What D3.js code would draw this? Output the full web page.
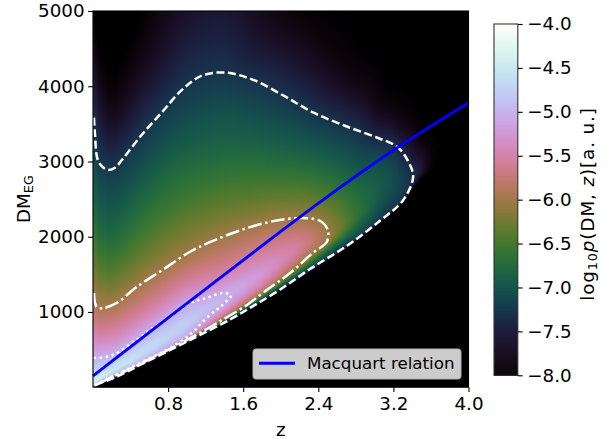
<!DOCTYPE html>
<html><head><meta charset="utf-8">
<script src="https://cdn.jsdelivr.net/npm/d3@7"></script>
<style>
html,body{margin:0;padding:0;background:#fff}
svg{display:block}
text{font-family:"DejaVu Sans";fill:#000}
</style></head><body>
<svg id="c" width="610" height="439"></svg>
<script>
const xTicks=[0.8,1.6,2.4,3.2,4.0];
const yTicks=[1000,2000,3000,4000,5000];
const cbTicks=[-4,-4.5,-5,-5.5,-6,-6.5,-7,-7.5,-8];
const legendLabel="Macquart relation";

// redshift columns
const zColumns=[0,0.1,0.2,0.4,0.7,1.0,1.4,1.8,2.2,2.5,2.8,3.1,3.3,3.41,3.5,3.62,4.0];
// each column: knots of [DM, log10 p]
const columnProfiles=[
[[-30,-8],[-10,-7.25],[0,-6],[10,-5.05],[60,-4.3],[150,-4.55],[300,-4.85],[400,-5.05],[700,-5.45],[1000,-5.78],[1280,-6],[1800,-6.4],[2400,-6.78],[3000,-7.05],[3650,-7.25],[4200,-7.6],[5000,-8]],
[[40,-8],[65,-7.25],[85,-6],[100,-5.1],[125,-4.35],[170,-4.45],[280,-4.8],[400,-5.05],[700,-5.55],[1052,-6],[1500,-6.42],[2000,-6.82],[2930,-7.25],[3500,-7.65],[4000,-7.95],[5000,-8.3]],
[[88,-8],[113,-7.25],[135,-6],[150,-5.05],[210,-4.42],[320,-4.75],[426,-5.05],[750,-5.55],[1090,-6],[1500,-6.42],[2000,-6.8],[2900,-7.25],[3300,-7.6],[3800,-7.95],[5000,-8.2]],
[[205,-8],[232,-7.25],[248,-6],[260,-5.05],[350,-4.5],[450,-4.7],[575,-5.05],[850,-5.5],[1266,-6],[1800,-6.45],[2400,-6.85],[3165,-7.25],[3700,-7.6],[4300,-7.9],[5000,-8.1]],
[[390,-8],[415,-7.25],[432,-6],[445,-5.05],[600,-4.62],[700,-4.8],[835,-5.05],[1100,-5.5],[1525,-6],[2100,-6.42],[2900,-6.88],[3630,-7.25],[4300,-7.65],[5000,-7.85]],
[[575,-8],[606,-7.25],[640,-6],[670,-5.05],[860,-4.72],[1095,-5.05],[1320,-5.45],[1750,-6],[2400,-6.45],[3200,-6.9],[3999,-7.25],[5000,-7.65]],
[[825,-8],[862,-7.25],[912,-6],[1000,-5.4],[1108,-5.05],[1180,-4.95],[1252,-5.05],[1500,-5.5],[1990,-6],[2600,-6.45],[3150,-6.8],[3700,-7.03],[4180,-7.25],[5000,-7.58]],
[[1120,-8],[1160,-7.25],[1245,-6],[1340,-5.5],[1510,-5.2],[1750,-5.5],[2170,-6],[2700,-6.5],[3300,-6.9],[4023,-7.25],[4500,-7.6],[5000,-7.78]],
[[1430,-8],[1475,-7.25],[1625,-6],[1800,-5.55],[1950,-5.55],[2245,-6],[2700,-6.5],[3200,-6.92],[3755,-7.25],[4300,-7.62],[5000,-7.95]],
[[1675,-8],[1715,-7.25],[1800,-6.85],[1930,-6.0],[2010,-5.95],[2090,-6.0],[2300,-6.2],[2700,-6.62],[3100,-6.95],[3570,-7.25],[4000,-7.65],[4500,-7.9],[5000,-8]],
[[1930,-8],[1970,-7.25],[2060,-6.9],[2250,-6.6],[2500,-6.68],[2900,-6.98],[3420,-7.25],[3800,-7.65],[4100,-7.9],[4500,-8]],
[[2220,-8],[2260,-7.25],[2450,-7.05],[2750,-6.95],[3000,-7.05],[3275,-7.25],[3500,-7.65],[3800,-8]],
[[2440,-8],[2480,-7.25],[2800,-7.1],[3100,-7.25],[3350,-7.6],[3550,-7.95],[3650,-8]],
[[2620,-8],[2700,-7.45],[2796,-7.25],[2950,-7.38],[3150,-7.7],[3350,-7.95],[3450,-8]],
[[2750,-8],[2850,-7.62],[2900,-7.55],[3000,-7.6],[3200,-7.9],[3300,-8]],
[[2850,-8],[2950,-7.97],[3050,-8]],
[[3200,-8],[3400,-8]]
];
const contourOuter=[[0.01,3582],[0.02,3382],[0.05,3023],[0.10,2930],[0.16,2889],[0.235,2916],[0.31,3023],[0.52,3355],[0.74,3662],[0.95,3955],[1.16,4141],[1.41,4181],[1.70,4088],[2.05,3861],[2.35,3648],[2.71,3462],[3.03,3315],[3.24,3196],[3.36,2996],[3.41,2796],[3.30,2479],[3.057,2213],[2.706,1880],[2.31,1570],[1.99,1295],[1.7,1075],[1.46,900],[1.14,694],[0.885,534],[0.5,295],[0.245,136],[0.03,30],[0,5]];
const contourMiddle=[[0.01,1250],[0.04,1065],[0.11,1052],[0.27,1132],[0.45,1318],[0.74,1558],[1.03,1797],[1.25,1931],[1.49,2050],[1.75,2156],[1.99,2222],[2.24,2249],[2.42,2209],[2.50,2090],[2.49,1930],[2.34,1784],[2.10,1518],[1.85,1292],[1.64,1093],[1.43,933],[1.25,800],[0.7,432],[0.4,248],[0.2,135],[0.02,25]];
const contourInner=[[0.01,400],[0.03,388],[0.21,428],[0.43,601],[0.64,787],[0.85,960],[1.03,1119],[1.21,1186],[1.38,1252],[1.47,1220],[1.38,1093],[1.21,920],[1.03,695],[0.78,494],[0.565,362],[0.35,229],[0.16,120],[0.02,25]];
const macquartZ=[0,0.63,1.33,2.05,2.45,3.24,4.0];
const macquartDM=[150,759,1430,2117,2490,3182,3781];

const svg=d3.select("#c");
const FS=18.3;
const x=d3.scaleLinear().domain([0,4]).range([93,468.5]);
const y=d3.scaleLinear().domain([0,5000]).range([387.2,11]);
const color=d3.scaleSequential(d3.interpolateCubehelixDefault).domain([-8,-4]).clamp(true);

function sample(col,dm){
  const k=columnProfiles[col];
  if(dm<=k[0][0])return -8;
  const n=k.length;
  if(dm>=k[n-1][0])return k[n-1][1];
  const i=d3.bisector(d=>d[0]).right(k,dm);
  const a=k[i-1],b=k[i];
  return a[1]+(b[1]-a[1])*(dm-a[0])/(b[0]-a[0]);
}
function colIndex(z){
  return Math.max(0,Math.min(zColumns.length-2,d3.bisectRight(zColumns,z)-1));
}
function edgeAt(z){
  const i=colIndex(z),t=(z-zColumns[i])/(zColumns[i+1]-zColumns[i]);
  return columnProfiles[i][0][0]*(1-t)+columnProfiles[i+1][0][0]*t;
}
function fieldOff(z,off){
  const i=colIndex(z),t=(z-zColumns[i])/(zColumns[i+1]-zColumns[i]);
  return sample(i,columnProfiles[i][0][0]+off)*(1-t)+sample(i+1,columnProfiles[i+1][0][0]+off)*t;
}
// the read knots are rendered with a soft sampling kernel, tighter near the sharp lower edge
const kernel=[-1,-0.5,0,0.5,1],kw=[1,2,3,2,1];
function field(z,dm){
  const off=dm-edgeAt(z);
  if(off<=0&&z>3.7)return -8;
  const dOff=Math.min(Math.max(off,0)*0.2,260);
  const dz=Math.min(0.13,Math.max(off,0)/2500+0.01,Math.max(z,0.001));
  let s=0,w=0;
  for(let a=0;a<5;a++)for(let b=0;b<5;b++){
    const W=kw[a]*kw[b];
    s+=W*fieldOff(Math.min(4,z+kernel[a]*dz),off+kernel[b]*dOff);w+=W;
  }
  return s/w;
}
// heatmap raster through the scales
const x0=x.range()[0],x1=x.range()[1],y1=y.range()[0],y0=y.range()[1];
const W=Math.round(x1-x0),H=Math.round(y1-y0);
const cv=document.createElement("canvas");cv.width=W;cv.height=H;
const ctx=cv.getContext("2d");const img=ctx.createImageData(W,H);
for(let j=0;j<H;j++)for(let i=0;i<W;i++){
  const c=d3.rgb(color(field(x.invert(x0+i+.5),y.invert(y0+j+.5))));
  const p=(j*W+i)*4;img.data[p]=c.r;img.data[p+1]=c.g;img.data[p+2]=c.b;img.data[p+3]=255;
}
ctx.putImageData(img,0,0);
svg.append("image").attr("x",x0).attr("y",y0).attr("width",x1-x0).attr("height",y1-y0)
  .attr("preserveAspectRatio","none").attr("href",cv.toDataURL());

const line=d3.line(d=>x(d[0]),d=>y(d[1])).curve(d3.curveCatmullRom.alpha(0.5));
const lw=2.5;
[[contourOuter,"8,3.5"],[contourMiddle,"14,3.5,2.5,3.5"],[contourInner,"2.5,3.5"]].forEach(([d,dash])=>{
  svg.append("path").attr("d",line(d)).attr("fill","none").attr("stroke","#fff")
    .attr("stroke-width",lw).attr("stroke-dasharray",dash);
});
svg.append("path").attr("d",d3.line(d=>x(d[0]),d=>y(d[1])).curve(d3.curveMonotoneX)(macquartZ.map((z,i)=>[z,macquartDM[i]])))
  .attr("fill","none").attr("stroke","#0000ff").attr("stroke-width",3);

// axes
function styleAxis(g){
  g.selectAll("text").style("font-family","DejaVu Sans").style("font-size",FS+"px").attr("fill","#000");
  g.selectAll("line,path").attr("stroke","#000").attr("stroke-width",1.1);
}
svg.append("g").attr("transform",`translate(0,${y1})`)
  .call(d3.axisBottom(x).tickValues(xTicks).tickSize(4.9).tickPadding(4.5).tickFormat(d3.format(".1f"))).call(styleAxis)
  .call(g=>g.select(".domain").remove());
svg.append("g").attr("transform",`translate(${x0},0)`)
  .call(d3.axisLeft(y).tickValues(yTicks).tickSize(4.9).tickPadding(3.5).tickFormat(d3.format("d"))).call(styleAxis)
  .call(g=>g.select(".domain").remove());
svg.append("rect").attr("x",x0).attr("y",y0).attr("width",x1-x0).attr("height",y1-y0)
  .attr("fill","none").attr("stroke","#000").attr("stroke-width",1.1);

svg.append("text").attr("x",(x0+x1)/2).attr("y",436).attr("text-anchor","middle")
  .style("font-size",FS+"px").text("z");
const yl=svg.append("text").attr("transform",`translate(30,${(y0+y1)/2}) rotate(-90)`).attr("text-anchor","middle")
  .style("font-size",FS+"px");
yl.append("tspan").text("DM");
yl.append("tspan").attr("dy",3).style("font-size",(FS*0.7)+"px").text("EG");

// legend
const lg=svg.append("g");
lg.append("rect").attr("x",253).attr("y",349).attr("width",208).attr("height",30).attr("rx",3)
  .attr("fill","#cccccc").attr("stroke","#b3b3b3").attr("stroke-width",1);
lg.append("line").attr("x1",259).attr("x2",295).attr("y1",363.3).attr("y2",363.3)
  .attr("stroke","#0000ff").attr("stroke-width",3);
lg.append("text").attr("x",307).attr("y",369).style("font-size","16.7px").attr("fill","#111").text(legendLabel);

// colourbar
const cb=d3.scaleLinear().domain([-8,-4]).range([375.3,24]);
const cbX0=494,cbX1=517.8;
const steps=d3.range(-8,-4,4/352);
svg.append("g").selectAll("rect").data(steps).join("rect")
  .attr("x",cbX0).attr("width",cbX1-cbX0)
  .attr("y",d=>cb(d+4/352)).attr("height",d=>cb(d)-cb(d+4/352)+.6)
  .attr("fill",d=>color(d+2/352));
svg.append("rect").attr("x",cbX0).attr("y",24).attr("width",cbX1-cbX0).attr("height",351.3)
  .attr("fill","none").attr("stroke","#333").attr("stroke-width",1.1);
svg.append("g").attr("transform",`translate(${cbX1},0)`)
  .call(d3.axisRight(cb).tickValues(cbTicks).tickSize(4.9).tickPadding(4.5).tickFormat(d3.format(".1f"))).call(styleAxis)
  .call(g=>g.select(".domain").remove());
const cl=svg.append("text").attr("transform",`translate(594,204) rotate(-90)`).attr("text-anchor","middle")
  .style("font-size",FS+"px").style("letter-spacing","0.9px");
cl.append("tspan").text("log");
cl.append("tspan").attr("dy",3).style("font-size",(FS*0.7)+"px").text("10");
cl.append("tspan").attr("dy",-3).style("font-style","italic").text("p");
cl.append("tspan").text("(DM, ");
cl.append("tspan").style("font-style","italic").text("z");
cl.append("tspan").text(")[a. u.]");
</script></body></html>
